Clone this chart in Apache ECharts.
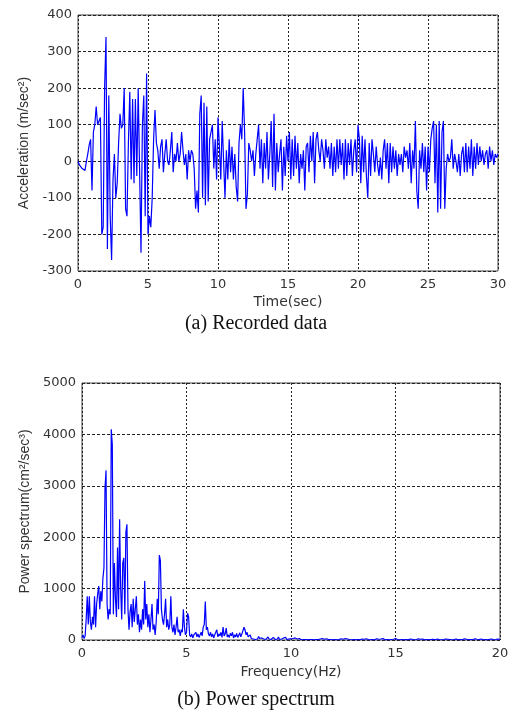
<!DOCTYPE html>
<html>
<head>
<meta charset="utf-8">
<script src="https://cdn.jsdelivr.net/npm/echarts@6/dist/echarts.min.js"></script>
<style>html,body{margin:0;padding:0;background:#fff;}#c{width:512px;height:713px;}</style>
</head>
<body>
<div id="c"></div>
<script>
// ---- (a) Recorded data: acceleration sampled every 0.1 s from 0 to 30 s ----
const accelStep = 0.1;
const accel = [
  0, -10, -5, -20, -15, -25, 0, 20, 45, 60,
  -80, 80, 100, 150, 100, 110, 120, -200, -180, 200,
  340, -240, 180, -150, -270, -50, 20, -100, -60, 50,
  130, 90, 100, 200, -130, -150, 50, 190, -50, 170,
  -60, 170, -40, 200, 200, -250, 100, 180, -150, 240,
  -200, -150, -180, -100, 60, 140, 50, 30, -20, 40,
  60, -30, 20, 60, 0, -10, 30, 80, -30, 20,
  0, 50, 0, 20, 80, 30, -10, 20, -50, 30,
  0, 30, 20, -20, -130, -80, -140, 130, 180, -100,
  160, -120, 150, -110, 60, 80, 100, -20, 60, -50,
  120, 40, -50, 110, 0, -100, 30, -50, 60, -30,
  40, -50, 20, -70, -110, 50, 100, 60, 200, 80,
  -130, -90, 50, 30, 0, 30, -40, 20, 60, 100,
  -20, 60, -60, 50, -20, 80, -50, 20, 110, -70,
  130, -80, 50, -30, 20, 60, -80, 40, -40, 70,
  0, 80, -50, 60, -40, 70, -20, 50, -60, 20,
  -20, 30, -80, 40, 50, -30, 70, 0, 80, -60,
  60, 80, 30, 0, 60, 30, -20, 60, 10, 40,
  -20, 50, -40, 40, -30, 60, -20, 60, -10, 50,
  -50, 60, -40, 50, -10, 60, -40, 30, 60, -30,
  100, 60, -60, 70, -30, 60, -40, -100, 50, -40,
  60, 20, -30, 40, -10, -40, 10, -50, 30, 60,
  -20, 50, -60, 50, -30, 40, -20, 30, -40, 20,
  -10, 20, -30, 40, 10, 30, -20, 50, -60, 30,
  -20, 110, -80, -130, 30, -20, 50, -30, 40, -80,
  40, -30, 60, 90, 110, -60, 100, -140, 110, -130,
  80, 110, -130, -20, 20, 0, 10, 60, -20, 20,
  0, -30, 20, -40, 20, 40, -30, 50, -30, 40,
  -20, 60, -40, 40, -20, 50, -10, 40, 0, 30,
  -10, 20, 30, -20, 40, 0, 30, -10, 20, 10,
  20
];
const timeTicks = [0, 5, 10, 15, 20, 25, 30];
const accelTicks = [-300, -200, -100, 0, 100, 200, 300, 400];

// ---- (b) Power spectrum: sampled every 0.05 Hz from 0 to 20 Hz ----
const freqStep = 0.05;
const power = [
  50, 100, 30, 80, 400, 850, 300, 850, 350, 200, 450, 300, 850, 250, 700, 900, 1050, 600, 950, 750,
  1200, 1400, 2950, 3300, 700, 400, 600, 500, 4100, 3800, 500, 1500, 800, 450, 1800, 600, 2350, 1000, 400, 1500,
  1600, 500, 2100, 2250, 600, 200, 550, 700, 250, 800, 350, 600, 850, 300, 500, 150, 400, 200, 600, 300,
  1150, 400, 700, 250, 500, 150, 400, 700, 200, 300, 100, 350, 800, 500, 1650, 1550, 600, 400, 300, 500,
  800, 250, 400, 200, 300, 850, 250, 150, 300, 100, 250, 450, 150, 200, 80, 200, 150, 600, 250, 100,
  150, 520, 450, 100, 60, 120, 40, 100, 80, 150, 60, 120, 50, 100, 150, 80, 250, 300, 750, 200,
  250, 120, 80, 150, 60, 120, 40, 100, 150, 200, 60, 120, 80, 150, 50, 250, 80, 120, 230, 60,
  100, 50, 130, 80, 150, 40, 100, 60, 130, 50, 90, 140, 60, 120, 180, 250, 200, 100, 150, 60,
  40, 100, 30, 60, 20, 50, 10, 40, 20, 70, 30, 10, 40, 60, 20, 50, 10, 30, 60, 20,
  40, 10, 30, 50, 20, 10, 40, 20, 60, 10, 30, 20, 10, 40, 20, 50, 10, 30, 20, 40,
  20, 10, 30, 10, 40, 5, 20, 10, 30, 15, 5, 25, 10, 40, 10, 20, 5, 30, 10, 15,
  10, 30, 5, 20, 10, 35, 10, 5, 20, 10, 30, 5, 15, 10, 25, 5, 10, 30, 10, 20,
  5, 15, 10, 30, 5, 20, 10, 5, 25, 10, 15, 5, 30, 10, 20, 5, 10, 20, 5, 15,
  10, 25, 5, 15, 10, 30, 5, 10, 20, 5, 15, 10, 25, 5, 10, 20, 5, 15, 10, 20,
  5, 10, 25, 5, 15, 10, 20, 5, 30, 10, 5, 15, 10, 20, 5, 25, 10, 5, 15, 10,
  30, 5, 10, 20, 5, 40, 10, 15, 5, 20, 10, 25, 5, 10, 20, 5, 15, 10, 5, 20,
  10, 5, 25, 10, 15, 5, 20, 10, 5, 30, 10, 15, 5, 20, 10, 5, 15, 25, 5, 10,
  20, 5, 10, 15, 5, 25, 10, 5, 20, 10, 15, 5, 10, 30, 5, 15, 10, 5, 20, 10,
  5, 15, 10, 20, 5, 10, 25, 5, 15, 10, 5, 20, 10, 15, 5, 10, 25, 5, 15, 10,
  10, 5, 20, 10, 5, 15, 10, 25, 5, 10, 15, 5, 20, 10, 5, 15, 10, 5, 20, 10,
  10
];
const freqTicks = [0, 5, 10, 15, 20];
const powerTicks = [0, 1000, 2000, 3000, 4000, 5000];

const captionA = '(a) Recorded data';
const captionB = '(b) Power spectrum';

const accelData = accel.map((v, i) => [+(i * accelStep).toFixed(2), v]);
const powerData = power.map((v, i) => [+(i * freqStep).toFixed(2), v]);

const tickStyle = { color: '#333', fontFamily: 'DejaVu Sans, Verdana, sans-serif', fontSize: 13 };
const xNameStyle = { color: '#333', fontFamily: 'DejaVu Sans, Verdana, sans-serif', fontSize: 14 };
const yNameStyle = { color: '#333', fontFamily: 'Liberation Sans, Arial, sans-serif', fontSize: 14 };
const serif = 'Liberation Serif, Times New Roman, serif';

function xAx(gridIndex, ticks, name, gap) {
  return {
    type: 'value', gridIndex, min: ticks[0], max: ticks[ticks.length - 1],
    interval: ticks[1] - ticks[0],
    name, nameLocation: 'middle', nameGap: gap, nameTextStyle: xNameStyle,
    axisLine: { show: false }, axisTick: { show: false },
    axisLabel: Object.assign({ margin: 7, formatter: v => String(v) }, tickStyle),
    splitLine: { show: true, lineStyle: { color: '#222', type: [2, 2], width: 1 } }
  };
}
function yAx(gridIndex, ticks, name, gap) {
  return {
    type: 'value', gridIndex, min: ticks[0], max: ticks[ticks.length - 1],
    interval: ticks[1] - ticks[0],
    name, nameLocation: 'middle', nameGap: gap, nameTextStyle: yNameStyle,
    axisLine: { show: false }, axisTick: { show: false },
    axisLabel: Object.assign({ margin: 6, formatter: v => String(v) }, tickStyle),
    splitLine: { show: true, lineStyle: { color: '#222', type: [3, 2], width: 1 } }
  };
}

const chart = echarts.init(document.getElementById('c'), null, { renderer: 'canvas' });
chart.setOption({
  animation: false,
  backgroundColor: '#fff',
  title: [
    { text: captionA, left: 'center', top: 309, textStyle: { fontFamily: serif, fontSize: 20, fontWeight: 'normal', color: '#111' } },
    { text: captionB, left: 'center', top: 685, textStyle: { fontFamily: serif, fontSize: 20, fontWeight: 'normal', color: '#111' } }
  ],
  grid: [
    { left: 78, top: 15, width: 420, height: 256, show: true, borderColor: '#444', borderWidth: 1, backgroundColor: 'transparent' },
    { left: 82, top: 383, width: 418, height: 257, show: true, borderColor: '#444', borderWidth: 1, backgroundColor: 'transparent' }
  ],
  xAxis: [
    xAx(0, timeTicks, 'Time(sec)', 24),
    xAx(1, freqTicks, 'Frequency(Hz)', 25)
  ],
  yAxis: [
    yAx(0, accelTicks, 'Acceleration (m/sec²)', 44),
    yAx(1, powerTicks, 'Power spectrum(cm²/sec³)', 47)
  ],
  series: [
    { type: 'line', xAxisIndex: 0, yAxisIndex: 0, data: accelData, showSymbol: false, symbol: 'none',
      lineStyle: { color: '#0000ff', width: 1.2 }, z: 3 },
    { type: 'line', xAxisIndex: 1, yAxisIndex: 1, data: powerData, showSymbol: false, symbol: 'none',
      lineStyle: { color: '#0000ff', width: 1.2 }, z: 3 }
  ]
});
</script>
</body>
</html>
